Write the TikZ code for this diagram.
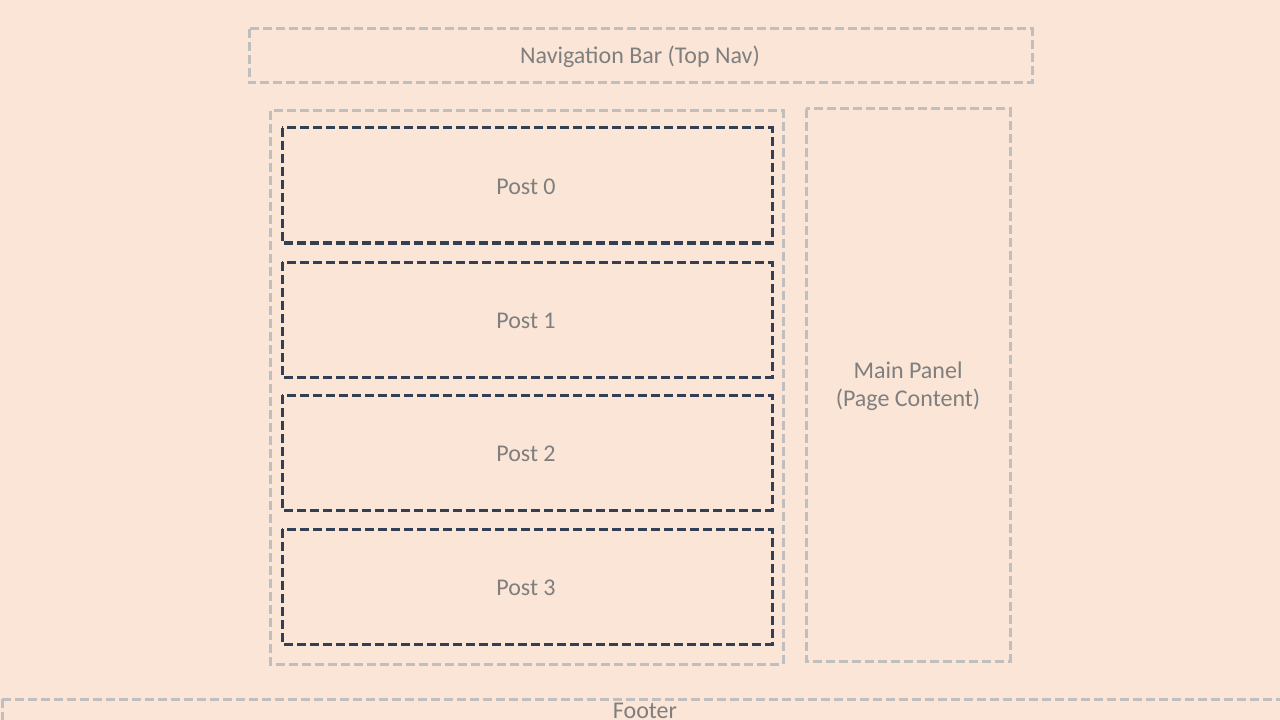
\documentclass[tikz,border=0pt]{standalone}
\usepackage{fontspec}
\setmainfont{Carlito}
\definecolor{bgc}{HTML}{FBE5D6}
\definecolor{lgray}{HTML}{BFBFBF}
\definecolor{dnavy}{HTML}{333F55}
\definecolor{tgray}{HTML}{7F7F7F}
\begin{document}
\begin{tikzpicture}[x=0.75pt,y=-0.75pt,
  lbox/.style={draw=lgray,line width=2.25pt,dash pattern=on 6.75pt off 3pt},
  dbox/.style={draw=dnavy,line width=2.25pt,dash pattern=on 6.75pt off 3pt},
  lbl/.style={text=tgray,font=\fontsize{18pt}{21pt}\selectfont,align=center,inner sep=0pt}]
\fill[bgc] (0,0) rectangle (1280,720);
\useasboundingbox (0,0) rectangle (1280,720);
\begin{scope}
\clip (0,0) rectangle (1280,720);
% navigation bar
\draw[lbox] (249,29) rectangle (1032,83);
\node[lbl] (nav) at (640,57) {Navigation Bar (Top Nav)};
% left container
\draw[lbox] (270,111) rectangle (783,664);
% posts
\draw[dbox] (282,128) rectangle (772,243);
\node[lbl] (p0) at (526,187) {Post 0};
\draw[dbox] (282,262) rectangle (772,377);
\node[lbl] (p1) at (526,321) {Post 1};
\draw[dbox] (282,395) rectangle (772,510);
\node[lbl] (p2) at (526,454) {Post 2};
\draw[dbox] (282,529) rectangle (772,644);
\node[lbl] (p3) at (526,588) {Post 3};
% main panel
\draw[lbox] (806,109) rectangle (1010,661);
\node[lbl] (main) at (908,386.5) {Main Panel\\(Page Content)};
% footer
\draw[lbox] (2,699) rectangle (1290,722);
\node[lbl] (foot) at (645,710.5) {Footer};
\end{scope}
\end{tikzpicture}
\end{document}
